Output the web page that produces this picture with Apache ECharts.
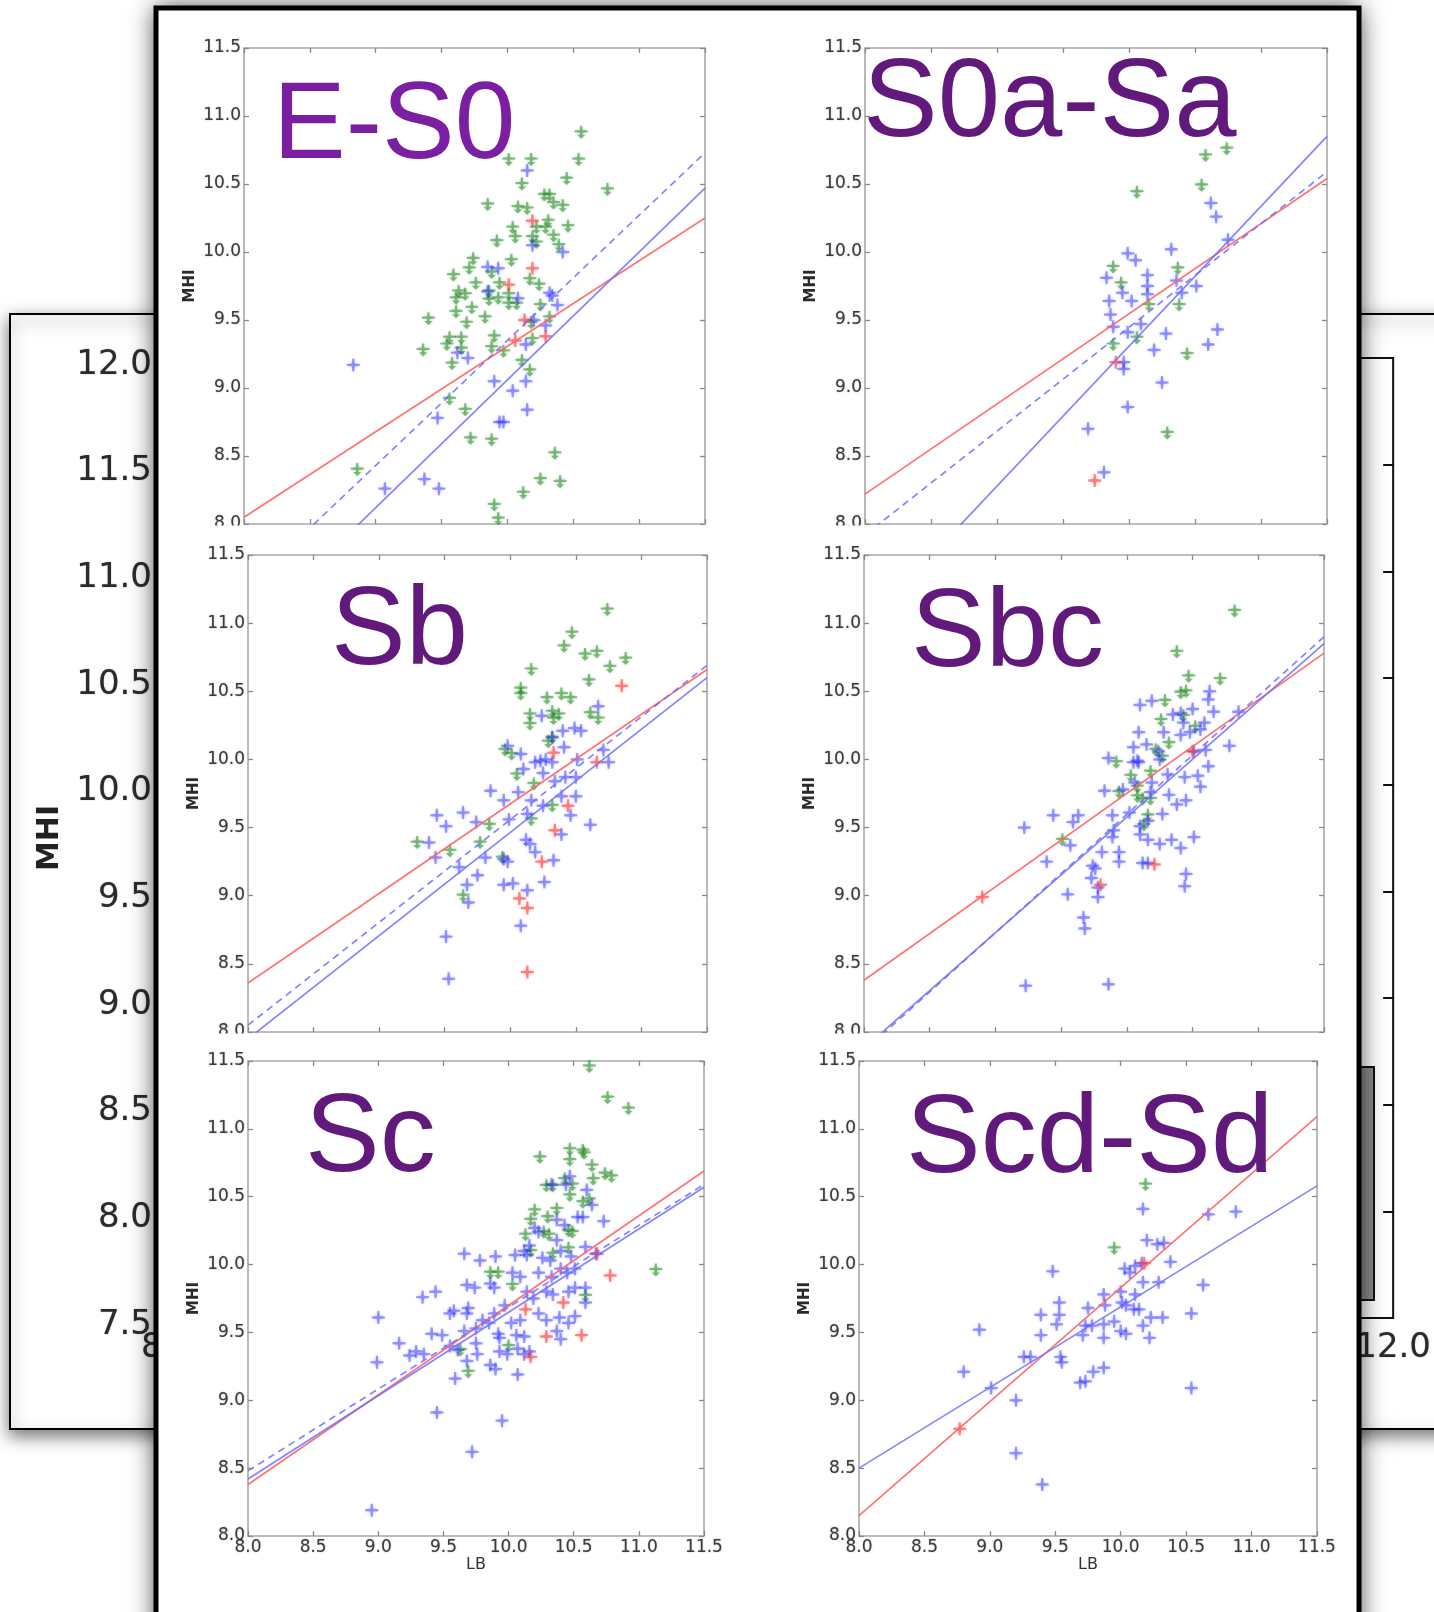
<!DOCTYPE html>
<html>
<head>
<meta charset="utf-8">
<script src="https://cdn.jsdelivr.net/npm/echarts@6/dist/echarts.min.js"></script>
<style>
  html, body { margin: 0; padding: 0; background: #fff; }
  #main { width: 1434px; height: 1612px; }
</style>
</head>
<body>
<div id="main"></div>
<script>
// panel names
const panelNames = ['E-S0', 'S0a-Sa', 'Sb', 'Sbc', 'Sc', 'Scd-Sd'];

// E-S0
const es0Green = [[10.56,10.88],[10.01,10.68],[10.18,10.68],[10.54,10.68],[10.45,10.54],[10.11,10.50],[10.76,10.46],[9.85,10.35],[10.08,10.33],[10.28,10.42],[10.32,10.42],[10.35,10.36],[10.42,10.34],[10.15,10.32],[10.31,10.23],[10.04,10.18],[10.22,10.18],[10.29,10.18],[10.46,10.19],[10.06,10.11],[10.19,10.11],[10.35,10.12],[9.92,10.08],[10.22,10.07],[10.39,10.05],[9.74,9.95],[10.03,9.94],[9.71,9.88],[9.59,9.83],[9.88,9.85],[9.94,9.77],[9.63,9.71],[9.68,9.69],[9.76,9.77],[10.17,9.80],[10.24,9.76],[9.86,9.71],[10.01,9.69],[9.61,9.66],[9.86,9.65],[9.93,9.66],[10.01,9.62],[10.07,9.62],[9.61,9.56],[9.73,9.59],[10.25,9.61],[9.40,9.51],[9.69,9.48],[9.83,9.52],[10.18,9.48],[10.32,9.52],[9.56,9.37],[9.65,9.37],[9.54,9.32],[9.90,9.38],[10.19,9.36],[9.36,9.28],[9.65,9.29],[9.88,9.30],[9.97,9.27],[9.58,9.18],[10.11,9.20],[10.17,9.13],[9.56,8.92],[9.68,8.84],[9.72,8.63],[9.88,8.62],[8.86,8.40],[10.36,8.52],[10.25,8.33],[10.40,8.31],[10.12,8.23],[9.90,8.14],[9.93,8.04]];
const es0Blue = [[10.15,10.60],[10.19,10.05],[10.42,10.00],[9.85,9.89],[9.93,9.88],[9.85,9.71],[10.08,9.66],[10.32,9.70],[10.34,9.68],[10.38,9.61],[10.20,9.50],[10.29,9.46],[10.14,9.32],[9.62,9.26],[9.70,9.22],[9.90,9.05],[10.04,8.98],[10.14,9.05],[10.15,8.84],[9.47,8.78],[9.94,8.75],[9.97,8.75],[8.83,9.17],[9.37,8.33],[9.07,8.26],[9.48,8.26]];
const es0Red = [[10.19,10.23],[10.19,9.88],[10.01,9.76],[10.13,9.50],[10.06,9.35],[10.29,9.38]];
const es0RedFit = [[8.0,8.05],[11.5,10.25]];
const es0BlueFit = [[8.0,7.18],[11.5,10.47]];
const es0BlueDash = [[8.0,7.51],[11.5,10.73]];

// S0a-Sa
const s0aGreen = [[10.74,10.76],[10.58,10.71],[10.06,10.44],[10.55,10.49],[9.88,9.89],[10.37,9.88],[9.94,9.77],[10.15,9.61],[10.38,9.61],[9.88,9.32],[10.06,9.37],[10.44,9.25],[10.29,8.67]];
const s0aBlue = [[9.99,9.99],[10.05,9.94],[10.32,10.02],[10.62,10.36],[10.66,10.26],[10.75,10.09],[9.83,9.81],[9.95,9.70],[10.14,9.83],[10.14,9.75],[9.85,9.64],[10.02,9.64],[10.14,9.69],[9.86,9.54],[9.88,9.45],[9.99,9.41],[10.09,9.47],[10.28,9.40],[10.19,9.28],[10.36,9.79],[10.40,9.70],[10.51,9.75],[10.60,9.32],[10.67,9.43],[9.96,9.19],[9.96,9.14],[10.25,9.04],[9.99,8.86],[9.69,8.70],[9.81,8.38]];
const s0aRed = [[9.74,8.32],[9.90,9.19]];
const s0aRedFit = [[8.0,8.22],[11.5,10.54]];
const s0aBlueFit = [[8.0,7.25],[11.5,10.85]];
const s0aBlueDash = [[8.0,7.92],[11.5,10.59]];

// Sb
const sbGreen = [[10.74,11.10],[10.47,10.93],[10.41,10.83],[10.57,10.77],[10.66,10.79],[10.88,10.74],[10.76,10.68],[10.16,10.66],[10.08,10.52],[10.08,10.48],[10.60,10.58],[10.28,10.45],[10.39,10.48],[10.46,10.45],[10.15,10.33],[10.15,10.26],[10.32,10.35],[10.33,10.30],[10.37,10.33],[10.61,10.34],[10.67,10.30],[10.29,10.13],[10.32,10.16],[9.96,10.07],[10.01,10.04],[10.05,9.89],[10.18,9.82],[10.32,9.66],[10.16,9.56],[9.84,9.52],[9.29,9.39],[9.77,9.39],[9.54,9.33],[9.94,9.28],[9.64,9.00]];
const sbBlue = [[10.67,10.39],[10.24,10.32],[10.40,10.21],[10.49,10.23],[10.54,10.21],[10.32,10.16],[10.41,10.09],[9.98,10.10],[10.08,10.04],[10.19,9.98],[10.23,9.99],[10.32,9.98],[10.27,10.00],[10.51,10.00],[10.71,10.07],[10.75,9.98],[10.10,9.93],[10.25,9.90],[10.34,9.84],[10.42,9.87],[10.50,9.87],[9.85,9.77],[10.06,9.76],[9.95,9.70],[10.16,9.70],[10.25,9.66],[10.39,9.73],[10.50,9.73],[10.13,9.60],[10.46,9.59],[10.61,9.52],[9.44,9.59],[9.64,9.61],[9.51,9.51],[9.74,9.54],[9.99,9.56],[9.38,9.39],[9.43,9.28],[9.81,9.28],[9.61,9.21],[9.75,9.15],[9.95,9.27],[9.98,9.25],[10.12,9.41],[10.15,9.38],[10.19,9.32],[10.33,9.26],[10.39,9.45],[10.26,9.10],[9.95,9.08],[10.02,9.09],[10.13,9.04],[9.67,9.08],[9.68,8.95],[10.08,8.78],[9.51,8.70],[9.53,8.39]];
const sbRed = [[10.85,10.54],[10.33,10.05],[10.66,9.98],[10.44,9.66],[10.34,9.48],[10.24,9.25],[10.07,8.98],[10.13,8.91],[10.13,8.44]];
const sbRedFit = [[8.0,8.36],[11.5,10.66]];
const sbBlueFit = [[8.0,7.95],[11.5,10.60]];
const sbBlueDash = [[8.0,8.05],[11.5,10.69]];

// Sbc
const sbcGreen = [[10.82,11.09],[10.38,10.79],[10.47,10.61],[10.71,10.59],[10.41,10.49],[10.45,10.50],[10.29,10.43],[10.26,10.29],[10.43,10.32],[10.52,10.24],[10.32,10.12],[10.22,10.07],[10.27,10.02],[9.92,9.98],[10.03,9.88],[10.18,9.91],[9.94,9.76],[10.08,9.73],[10.12,9.71],[10.18,9.71],[10.16,9.59],[10.13,9.52],[9.51,9.41],[10.08,9.80]];
const sbcBlue = [[10.10,10.40],[10.19,10.43],[10.63,10.50],[10.62,10.44],[10.35,10.33],[10.41,10.34],[10.50,10.37],[10.66,10.35],[10.09,10.20],[10.43,10.27],[10.48,10.20],[10.59,10.27],[10.28,10.20],[10.05,10.09],[10.15,10.11],[10.41,10.18],[10.56,10.22],[9.86,10.01],[10.08,9.99],[10.09,9.98],[10.05,9.98],[10.25,10.00],[10.24,10.06],[10.31,9.89],[10.51,10.06],[10.60,10.07],[10.78,10.10],[10.62,9.95],[10.54,9.88],[10.56,9.80],[10.44,9.87],[9.83,9.77],[9.97,9.78],[10.06,9.83],[10.19,9.83],[10.18,9.76],[10.32,9.74],[10.38,9.67],[10.45,9.70],[10.27,9.60],[9.89,9.59],[10.02,9.61],[10.10,9.51],[10.16,9.55],[9.22,9.50],[9.44,9.59],[9.63,9.59],[9.59,9.54],[9.90,9.48],[9.89,9.43],[10.10,9.45],[10.16,9.41],[9.57,9.37],[9.81,9.32],[9.94,9.32],[10.25,9.38],[10.34,9.41],[10.41,9.35],[10.51,9.43],[9.39,9.25],[9.94,9.25],[10.12,9.24],[10.16,9.24],[9.74,9.22],[9.76,9.20],[9.73,9.13],[9.78,9.06],[9.55,9.01],[9.78,8.99],[10.45,9.16],[10.44,9.07],[9.67,8.84],[9.68,8.76],[9.23,8.34],[9.86,8.35],[10.85,10.35]];
const sbcRed = [[10.50,10.06],[10.21,9.23],[9.80,9.08],[8.90,8.99]];
const sbcRedFit = [[8.0,8.38],[11.5,10.78]];
const sbcBlueFit = [[8.0,7.88],[11.5,10.85]];
const sbcBlueDash = [[8.0,7.86],[11.5,10.90]];

// Sc
const scGreen = [[10.62,11.46],[10.76,11.23],[10.92,11.15],[10.24,10.79],[10.47,10.85],[10.47,10.77],[10.57,10.84],[10.58,10.82],[10.64,10.73],[10.65,10.63],[10.74,10.67],[10.79,10.65],[10.43,10.63],[10.49,10.59],[10.29,10.58],[10.34,10.58],[10.47,10.51],[10.57,10.46],[10.62,10.48],[10.20,10.40],[10.17,10.33],[10.37,10.41],[10.30,10.35],[10.13,10.22],[10.27,10.24],[10.31,10.22],[10.46,10.25],[10.49,10.24],[10.17,10.10],[10.34,10.08],[10.46,10.12],[9.86,9.94],[9.92,9.94],[10.03,9.85],[10.59,9.77],[11.13,9.96],[9.63,9.37],[9.69,9.21],[10.00,9.40]];
const scBlue = [[10.47,10.65],[10.44,10.59],[10.60,10.55],[10.33,10.59],[10.37,10.33],[10.43,10.29],[10.53,10.35],[10.57,10.35],[10.73,10.32],[10.64,10.44],[10.23,10.24],[10.16,10.14],[10.37,10.18],[10.20,10.27],[9.66,10.08],[9.78,10.03],[9.90,10.06],[10.05,10.07],[10.12,10.10],[10.14,10.07],[10.26,10.05],[10.32,10.03],[10.40,10.10],[10.48,10.06],[10.59,10.13],[10.67,10.08],[10.03,9.94],[10.09,9.91],[10.23,9.94],[10.33,9.91],[10.40,9.97],[10.45,9.94],[10.51,9.97],[9.68,9.85],[9.74,9.83],[9.86,9.86],[9.89,9.83],[10.14,9.80],[10.19,9.75],[10.29,9.80],[10.34,9.78],[10.46,9.80],[10.51,9.83],[10.59,9.83],[10.59,9.72],[9.34,9.76],[9.44,9.80],[9.55,9.64],[9.58,9.66],[9.69,9.68],[9.68,9.64],[9.80,9.59],[9.85,9.57],[9.89,9.64],[9.97,9.70],[10.02,9.57],[10.09,9.59],[10.23,9.64],[10.29,9.59],[10.39,9.61],[10.46,9.57],[10.51,9.62],[9.00,9.61],[9.41,9.49],[9.49,9.48],[9.66,9.51],[9.75,9.53],[9.92,9.49],[9.93,9.46],[10.06,9.48],[10.12,9.47],[10.37,9.51],[10.40,9.45],[9.16,9.42],[9.24,9.33],[9.29,9.36],[9.35,9.34],[9.55,9.40],[9.61,9.37],[9.75,9.42],[9.76,9.34],[9.93,9.36],[9.99,9.34],[10.07,9.38],[10.12,9.34],[10.16,9.36],[8.99,9.28],[9.68,9.29],[9.86,9.26],[9.90,9.23],[10.07,9.19],[9.59,9.16],[9.45,8.91],[9.95,8.85],[9.72,8.62],[8.95,8.19]];
const scRed = [[10.78,9.92],[10.56,9.48],[10.29,9.47],[10.42,9.72],[10.13,9.67],[10.17,9.32],[10.68,10.08]];
const scRedFit = [[8.0,8.38],[11.5,10.69]];
const scBlueFit = [[8.0,8.42],[11.5,10.57]];
const scBlueDash = [[8.0,8.48],[11.5,10.59]];

// Scd-Sd
const scdGreen = [[10.19,10.59],[9.95,10.12]];
const scdBlue = [[10.17,10.41],[10.67,10.37],[10.88,10.39],[10.20,10.18],[10.28,10.15],[10.33,10.16],[10.38,10.02],[10.03,9.97],[10.07,9.94],[10.11,9.99],[10.16,10.01],[9.48,9.95],[10.17,9.87],[10.29,9.87],[10.63,9.85],[10.00,9.80],[9.87,9.78],[10.11,9.78],[9.53,9.72],[10.01,9.72],[10.04,9.70],[9.75,9.68],[9.88,9.70],[10.10,9.67],[10.14,9.67],[9.39,9.63],[9.53,9.63],[10.23,9.61],[10.32,9.61],[10.54,9.64],[9.51,9.56],[9.73,9.55],[9.78,9.55],[9.87,9.56],[9.95,9.58],[10.17,9.55],[8.92,9.52],[9.39,9.48],[9.71,9.48],[10.00,9.51],[10.04,9.49],[9.87,9.46],[10.22,9.46],[9.26,9.32],[9.31,9.32],[9.54,9.32],[9.55,9.28],[8.80,9.21],[9.79,9.21],[9.87,9.24],[9.69,9.13],[9.73,9.14],[9.01,9.09],[9.20,9.00],[10.54,9.09],[9.20,8.61],[9.40,8.38]];
const scdRed = [[10.18,10.01],[8.77,8.79]];
const scdRedFit = [[8.0,8.15],[11.5,11.09]];
const scdBlueFit = [[8.0,8.50],[11.5,10.58]];

const panelData = [
  { green: es0Green, blue: es0Blue, red: es0Red, redFit: es0RedFit, blueFit: es0BlueFit, blueDash: es0BlueDash },
  { green: s0aGreen, blue: s0aBlue, red: s0aRed, redFit: s0aRedFit, blueFit: s0aBlueFit, blueDash: s0aBlueDash },
  { green: sbGreen, blue: sbBlue, red: sbRed, redFit: sbRedFit, blueFit: sbBlueFit, blueDash: sbBlueDash },
  { green: sbcGreen, blue: sbcBlue, red: sbcRed, redFit: sbcRedFit, blueFit: sbcBlueFit, blueDash: sbcBlueDash },
  { green: scGreen, blue: scBlue, red: scRed, redFit: scRedFit, blueFit: scBlueFit, blueDash: scBlueDash },
  { green: scdGreen, blue: scdBlue, red: scdRed, redFit: scdRedFit, blueFit: scdBlueFit, blueDash: null }
];

// where each small plot sits on the page
const panelBoxes = [
  { left: 244, top: 48, width: 461, height: 476, tx: 273, ty: 128, size: 109, color: '#7b1fa2' },
  { left: 865, top: 48, width: 462, height: 476, tx: 863, ty: 105, size: 112, color: '#611a7c' },
  { left: 248, top: 555, width: 459, height: 477, tx: 331, ty: 633, size: 112, color: '#611a7c' },
  { left: 864, top: 555, width: 460, height: 477, tx: 911, ty: 635, size: 112, color: '#611a7c' },
  { left: 248, top: 1061, width: 456, height: 475, tx: 305, ty: 1140, size: 112, color: '#611a7c' },
  { left: 859, top: 1061, width: 458, height: 475, tx: 906, ty: 1141, size: 112, color: '#611a7c' }
];

const tickFont = '"DejaVu Sans", sans-serif';
const fmt = v => v.toFixed(1);

// blurred "+" and down-arrow markers
const plusPath = 'path://M5.1,0H6.9L7.3,4.7L12,5.1V6.9L7.3,7.3L6.9,12H5.1L4.7,7.3L0,6.9V5.1L4.7,4.7Z';
const arrowPath = 'path://M5.1,0H6.9L7.2,3.9L12,4.3V5.9L7.2,6.3L7.1,8.2L9.8,8.2L6,12L2.2,8.2L4.9,8.2L4.8,6.3L0,5.9V4.3L4.8,3.9Z';

const chart = echarts.init(document.getElementById('main'));

const grids = [];
const xAxes = [];
const yAxes = [];
const series = [];

const labelStyle = {
  fontSize: 17, fontFamily: tickFont, color: '#3c3c3c',
  textShadowBlur: 1.5, textShadowColor: 'rgba(0,0,0,0.35)'
};

panelBoxes.forEach((b, i) => {
  const bottomRow = i >= 4;
  grids.push({
    left: b.left, top: b.top, width: b.width, height: b.height,
    show: true, borderColor: '#a8a8a8', borderWidth: 1.6, z: 4
  });
  const tick = { inside: true, length: 5, lineStyle: { color: '#8a8a8a', width: 1.3 } };
  xAxes.push({
    gridIndex: i, type: 'value', min: 8, max: 11.5, interval: 0.5, position: 'bottom', z: 4,
    axisLine: { show: false, onZero: false }, axisTick: tick, splitLine: { show: false },
    axisLabel: Object.assign({ show: bottomRow, margin: 3, formatter: fmt }, labelStyle),
    name: bottomRow ? 'LB' : '', nameLocation: 'middle', nameGap: 21,
    nameTextStyle: { fontSize: 16, fontFamily: 'DejaVu Sans', color: '#333' }
  });
  xAxes.push({
    gridIndex: i, type: 'value', min: 8, max: 11.5, interval: 0.5, position: 'top', z: 4,
    axisLine: { show: false, onZero: false }, axisTick: tick, splitLine: { show: false },
    axisLabel: { show: false }
  });
  yAxes.push({
    gridIndex: i, type: 'value', min: 8, max: 11.5, interval: 0.5, position: 'left', z: 4,
    axisLine: { show: false, onZero: false }, axisTick: tick, splitLine: { show: false },
    axisLabel: Object.assign({ margin: 3, formatter: fmt }, labelStyle),
    name: 'MHI', nameLocation: 'middle', nameGap: 46,
    nameTextStyle: { fontSize: 15, fontWeight: 'bold', fontFamily: 'DejaVu Sans', color: '#2a2a2a' }
  });
  yAxes.push({
    gridIndex: i, type: 'value', min: 8, max: 11.5, interval: 0.5, position: 'right', z: 4,
    axisLine: { show: false, onZero: false }, axisTick: tick, splitLine: { show: false },
    axisLabel: { show: false }
  });

  const d = panelData[i];
  const ax = { xAxisIndex: 2 * i, yAxisIndex: 2 * i };
  series.push(Object.assign({
    type: 'scatter', data: d.green, symbol: arrowPath, symbolSize: 13, z: 5, silent: true,
    itemStyle: { color: 'rgba(20,128,20,0.6)', shadowBlur: 3, shadowColor: 'rgba(20,128,20,0.55)' }
  }, ax));
  series.push(Object.assign({
    type: 'scatter', data: d.blue, symbol: plusPath, symbolSize: 13, z: 5, silent: true,
    itemStyle: { color: 'rgba(40,40,255,0.55)', shadowBlur: 3, shadowColor: 'rgba(40,40,255,0.5)' }
  }, ax));
  series.push(Object.assign({
    type: 'scatter', data: d.red, symbol: plusPath, symbolSize: 13, z: 5, silent: true,
    itemStyle: { color: 'rgba(255,40,40,0.65)', shadowBlur: 3, shadowColor: 'rgba(255,40,40,0.5)' }
  }, ax));
  series.push(Object.assign({
    type: 'line', data: d.redFit, showSymbol: false, symbol: 'none', z: 6, silent: true, clip: true,
    lineStyle: { color: 'rgba(255,100,100,0.9)', width: 1.7 }
  }, ax));
  series.push(Object.assign({
    type: 'line', data: d.blueFit, showSymbol: false, symbol: 'none', z: 6, silent: true, clip: true,
    lineStyle: { color: 'rgba(110,110,255,0.85)', width: 1.7 }
  }, ax));
  if (d.blueDash) {
    series.push(Object.assign({
      type: 'line', data: d.blueDash, showSymbol: false, symbol: 'none', z: 6, silent: true, clip: true,
      lineStyle: { color: 'rgba(110,110,255,0.85)', width: 1.7, type: [7, 5] }
    }, ax));
  }
});

// the larger chart lying underneath
const backIndex = panelBoxes.length;
const backLabel = {
  fontSize: 34, fontFamily: 'DejaVu Sans', color: '#2b2b2b',
  textShadowBlur: 1.5, textShadowColor: 'rgba(0,0,0,0.3)', formatter: fmt
};
grids.push({ left: 168, top: 358, width: 1240, height: 960, show: true, borderColor: '#111', borderWidth: 2, z: 2 });
xAxes.push({
  gridIndex: backIndex, type: 'value', min: 8, max: 12, interval: 0.5, z: 2,
  axisLine: { show: false, onZero: false }, axisTick: { show: false }, splitLine: { show: false },
  axisLabel: Object.assign({ margin: 13 }, backLabel)
});
yAxes.push({
  gridIndex: backIndex, type: 'value', min: 7.5, max: 12, interval: 0.5, position: 'left', z: 2,
  axisLine: { show: false, onZero: false }, axisTick: { show: false }, splitLine: { show: false },
  axisLabel: Object.assign({ margin: 16, verticalAlign: 'top', lineHeight: 14 }, backLabel),
  name: 'MHI', nameLocation: 'middle', nameGap: 90,
  nameTextStyle: { fontSize: 30, fontWeight: 'bold', fontFamily: 'DejaVu Sans', color: '#222' }
});
yAxes.push({
  gridIndex: backIndex, type: 'value', min: 7.5, max: 12, interval: 0.5, position: 'right', z: 2,
  axisLine: { show: false, onZero: false }, splitLine: { show: false },
  axisTick: { inside: true, length: 10, lineStyle: { color: '#111', width: 2 } },
  axisLabel: { show: false }
});

const graphics = [
  { type: 'rect', z: 1, shape: { x: 10, y: 314, width: 1500, height: 1115 },
    style: { fill: '#fff', stroke: '#000', lineWidth: 2, shadowBlur: 16, shadowOffsetY: 6, shadowColor: 'rgba(0,0,0,0.55)' } },
  { type: 'rect', z: 2, shape: { x: 1330, y: 1067, width: 44, height: 233 },
    style: { fill: '#8c8c8c', stroke: '#111', lineWidth: 2 } },
  // front sheet: shadow first, then a clean border on top
  { type: 'rect', z: 3, shape: { x: 156, y: 8, width: 1203, height: 1700 },
    style: { fill: '#fff', shadowBlur: 24, shadowColor: 'rgba(0,0,0,0.8)' } },
  { type: 'rect', z: 3.5, shape: { x: 156, y: 8, width: 1203, height: 1700 },
    style: { fill: '#fff', stroke: '#000', lineWidth: 5 } },
  { type: 'rect', z: 8, shape: { x: 160, y: 525.5, width: 1195, height: 20 }, style: { fill: '#fff' } },
  { type: 'rect', z: 8, shape: { x: 160, y: 1033.5, width: 1195, height: 18 }, style: { fill: '#fff' } }
];
panelBoxes.forEach((b, i) => {
  graphics.push({
    type: 'text', z: 9, x: b.tx, y: b.ty,
    style: {
      text: panelNames[i], fill: b.color,
      font: b.size + 'px "Liberation Sans", Arial, sans-serif',
      align: 'left', verticalAlign: 'middle', textAlign: 'left', textVerticalAlign: 'middle'
    }
  });
});

chart.setOption({
  animation: false,
  backgroundColor: '#fff',
  grid: grids,
  xAxis: xAxes,
  yAxis: yAxes,
  series: series,
  graphic: { elements: graphics }
});
</script>
</body>
</html>
